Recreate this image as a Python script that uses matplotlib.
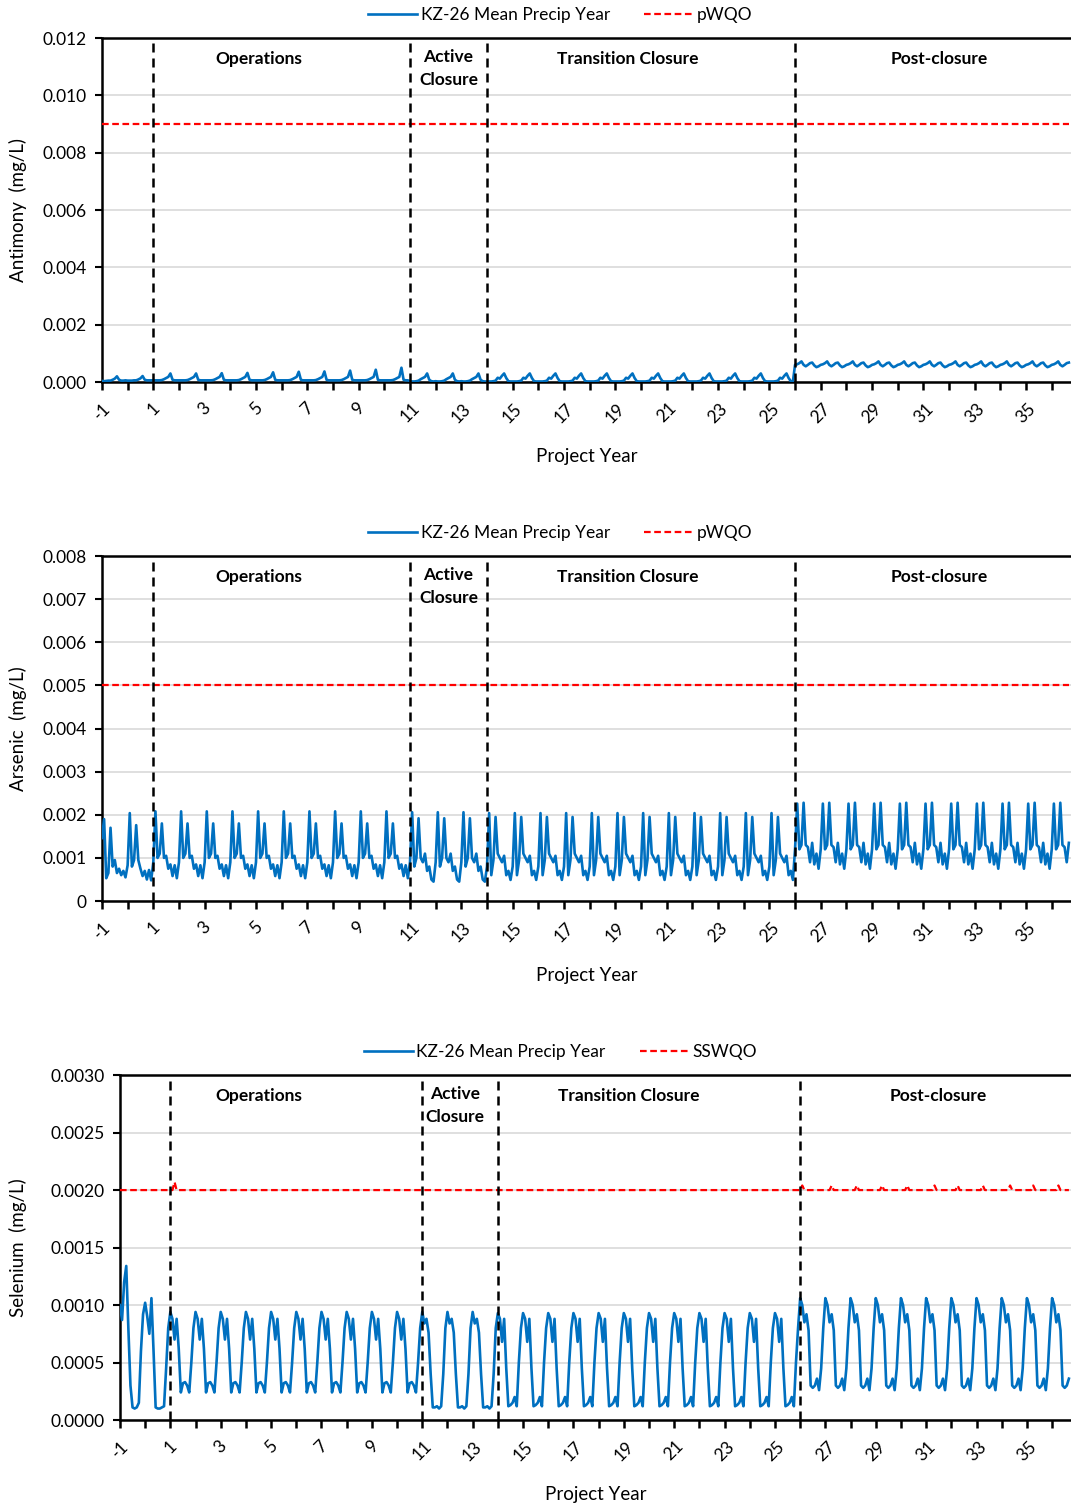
import numpy as np
import matplotlib
matplotlib.use("Agg")
import matplotlib.pyplot as plt

plt.rcParams['font.family'] = ['Lato', 'DejaVu Sans']

# monthly model output, project year -1 .. 36.67
n_months = 453
t = -1 + np.arange(n_months) / 12.0

phase_years = [1, 11, 14, 26]
xtick_years = list(range(-1, 37))
xtick_labels = [str(y) if y % 2 != 0 else "" for y in xtick_years]

# ---- Antimony (mg/L): monthly values ----
sb_pre = [0.00004, 0.00003, 0.00004, 0.00005, 0.00005, 0.00008, 0.00012, 0.00020, 0.00008, 0.00005, 0.00005, 0.00006,
          0.00005, 0.00005, 0.00005, 0.00006, 0.00006, 0.00009, 0.00013, 0.00021, 0.00008, 0.00006, 0.00006, 0.00006]
sb_ops_shape = [0.00006, 0.00006, 0.00006, 0.00006, 0.00007, 0.00010, 0.00014, 0.00018, 0.0, 0.00008, 0.00006, 0.00006]
sb_ops_peak = [0.00030, 0.00030, 0.00031, 0.00032, 0.00034, 0.00036, 0.00037, 0.00040, 0.00043, 0.00050]
sb_active = [0.00003, 0.00002, 0.00002, 0.00003, 0.00005, 0.00010, 0.00014, 0.00018, 0.00030, 0.00008, 0.00003, 0.00002]
sb_trans = [0.00002, 0.00002, 0.00002, 0.00003, 0.00005, 0.00015, 0.00012, 0.00022, 0.00030, 0.00014, 0.00003, 0.00002]
sb_post = [0.00060, 0.00062, 0.00066, 0.00072, 0.00060, 0.00055, 0.00060, 0.00066, 0.00068, 0.00058, 0.00052, 0.00055]
sb_pwqo = 0.009

# ---- Arsenic (mg/L) ----
as_pre = [0.00146, 0.00190, 0.00053, 0.00065, 0.00170, 0.00080, 0.00095, 0.00065, 0.00075, 0.00060, 0.00070, 0.00055,
          0.00083, 0.00204, 0.00080, 0.00095, 0.00176, 0.00095, 0.00075, 0.00058, 0.00070, 0.00050, 0.00072, 0.00048]
as_ops = [0.00090, 0.00208, 0.00100, 0.00110, 0.00180, 0.00100, 0.00105, 0.00075, 0.00085, 0.00058, 0.00083, 0.00053]
as_active = [0.00090, 0.00206, 0.00080, 0.00100, 0.00192, 0.00100, 0.00090, 0.00110, 0.00070, 0.00080, 0.00050, 0.00045]
as_trans = [0.00080, 0.00204, 0.00060, 0.00095, 0.00195, 0.00110, 0.00100, 0.00090, 0.00105, 0.00060, 0.00070, 0.00049]
as_post = [0.00120, 0.00226, 0.00120, 0.00130, 0.00228, 0.00130, 0.00125, 0.00090, 0.00135, 0.00085, 0.00110, 0.00075]
as_pwqo = 0.005

# ---- Selenium (mg/L) ----
se_pre = [0.00100, 0.00087, 0.00120, 0.00134, 0.00080, 0.00030, 0.00011, 0.00010, 0.00011, 0.00015, 0.00060, 0.00092,
          0.00102, 0.00090, 0.00075, 0.00106, 0.00060, 0.00011, 0.00010, 0.00010, 0.00011, 0.00012, 0.00045, 0.00080]
se_ops = [0.00094, 0.00088, 0.00070, 0.00088, 0.00062, 0.00024, 0.00032, 0.00033, 0.00030, 0.00024, 0.00050, 0.00080]
se_active = [0.00094, 0.00084, 0.00088, 0.00076, 0.00040, 0.00011, 0.00011, 0.00012, 0.00010, 0.00012, 0.00040, 0.00080]
se_trans = [0.00093, 0.00088, 0.00068, 0.00088, 0.00045, 0.00012, 0.00013, 0.00015, 0.00020, 0.00012, 0.00050, 0.00080]
se_post = [0.00106, 0.00100, 0.00085, 0.00092, 0.00078, 0.00030, 0.00028, 0.00030, 0.00036, 0.00026, 0.00045, 0.00080]
sswqo_base = 0.0020
sswqo_bump_t = [1.17, 26.08, 27.25, 28.25, 29.25, 30.25, 31.33, 32.25, 33.25, 34.33, 35.25, 36.25]
sswqo_bump_v = [0.00207, 0.00204, 0.00204, 0.00204, 0.00204, 0.00204, 0.00204, 0.00204, 0.00204, 0.00204, 0.00204, 0.00204]


def build(pre, ops_years, active, trans, post):
    vals = list(pre)
    for yr in range(1, 37):
        if yr < 11:
            vals += ops_years[yr - 1]
        elif yr < 14:
            vals += active
        elif yr < 26:
            vals += trans
        else:
            vals += post
    return np.array(vals[:n_months])


sb_ops = []
for p in sb_ops_peak:
    yr = list(sb_ops_shape)
    yr[8] = p
    sb_ops.append(yr)

antimony = build(sb_pre, sb_ops, sb_active, sb_trans, sb_post)
arsenic = build(as_pre, [as_ops] * 10, as_active, as_trans, as_post)
selenium = build(se_pre, [se_ops] * 10, se_active, se_trans, se_post)

sswqo = np.full(n_months, sswqo_base)
for bt, bv in zip(sswqo_bump_t, sswqo_bump_v):
    sswqo[int(round((bt + 1) * 12))] = bv

BLUE = '#0070C0'
RED = '#FF0000'

fig = plt.figure(figsize=(10.71, 15.03), dpi=100)


def panel(rect, series, guide, guide_name, ylabel, yticks, ylabels, label_x, legend_x):
    ax = fig.add_axes(rect)
    ax.plot(t, series, color=BLUE, lw=1.9, label='KZ-26 Mean Precip Year', zorder=3)
    if np.ndim(guide) == 0:
        guide = np.full(n_months, guide)
    ax.plot(t, guide, color=RED, lw=1.6, dashes=(3, 1.6), label=guide_name, zorder=3)
    for x in phase_years:
        ax.axvline(x, color='black', lw=1.8, dashes=(3.6, 2.4), zorder=4)

    ax.set_xlim(-1, 36.75)
    ax.set_ylim(yticks[0], yticks[-1])
    ax.set_yticks(yticks)
    ax.set_yticklabels(ylabels, fontsize=12.5)
    ax.yaxis.grid(True, color='#D9D9D9', lw=1.2)
    ax.set_axisbelow(True)

    ax.set_xticks(xtick_years)
    ax.set_xticklabels(xtick_labels, rotation=45, ha='center', fontsize=12.5)
    ax.tick_params(axis='x', length=6, width=1.8, direction='out', pad=7)
    ax.tick_params(axis='y', length=5, width=1.5, direction='out', pad=6)

    for side in ['left', 'top', 'bottom']:
        ax.spines[side].set_linewidth(1.8)
        ax.spines[side].set_color('black')
    ax.spines['right'].set_visible(False)

    ax.set_xlabel('Project Year', fontsize=13.5, labelpad=16)
    fig.text(0.017, rect[1] + rect[3] / 2, ylabel, rotation=90, ha='center', va='center', fontsize=13.5)

    lx = label_x
    ax.text(lx[0], 0.962, 'Operations', transform=ax.get_xaxis_transform(), ha='center', va='top',
            fontsize=12.5, fontweight='bold')
    ax.text(lx[1], 0.968, 'Active\nClosure', transform=ax.get_xaxis_transform(), ha='center', va='top',
            fontsize=12.5, fontweight='bold', linespacing=1.55)
    ax.text(lx[2], 0.962, 'Transition Closure', transform=ax.get_xaxis_transform(), ha='center', va='top',
            fontsize=12.5, fontweight='bold')
    ax.text(lx[3], 0.962, 'Post-closure', transform=ax.get_xaxis_transform(), ha='center', va='top',
            fontsize=12.5, fontweight='bold')

    ax.legend(loc='lower center', bbox_to_anchor=(legend_x, 1.0), ncol=2, frameon=False, fontsize=12.5,
              handlelength=2.8, handletextpad=0.2, columnspacing=2.0, borderaxespad=0.45)
    return ax


panel([0.0952, 0.7458, 0.9048, 0.2289], antimony, sb_pwqo, 'pWQO', 'Antimony  (mg/L)',
      [0, 0.002, 0.004, 0.006, 0.008, 0.010, 0.012],
      ['0.000', '0.002', '0.004', '0.006', '0.008', '0.010', '0.012'],
      [5.1, 12.5, 19.5, 31.6], 0.473)

panel([0.0952, 0.4005, 0.9048, 0.2295], arsenic, as_pwqo, 'pWQO', 'Arsenic  (mg/L)',
      [0, 0.001, 0.002, 0.003, 0.004, 0.005, 0.006, 0.007, 0.008],
      ['0', '0.001', '0.002', '0.003', '0.004', '0.005', '0.006', '0.007', '0.008'],
      [5.1, 12.5, 19.5, 31.6], 0.473)

panel([0.1120, 0.0552, 0.8880, 0.2295], selenium, sswqo, 'SSWQO', 'Selenium  (mg/L)',
      [0, 0.0005, 0.0010, 0.0015, 0.0020, 0.0025, 0.0030],
      ['0.0000', '0.0005', '0.0010', '0.0015', '0.0020', '0.0025', '0.0030'],
      [4.5, 12.3, 19.2, 31.5], 0.463)

fig.savefig('out.png', dpi=100)
